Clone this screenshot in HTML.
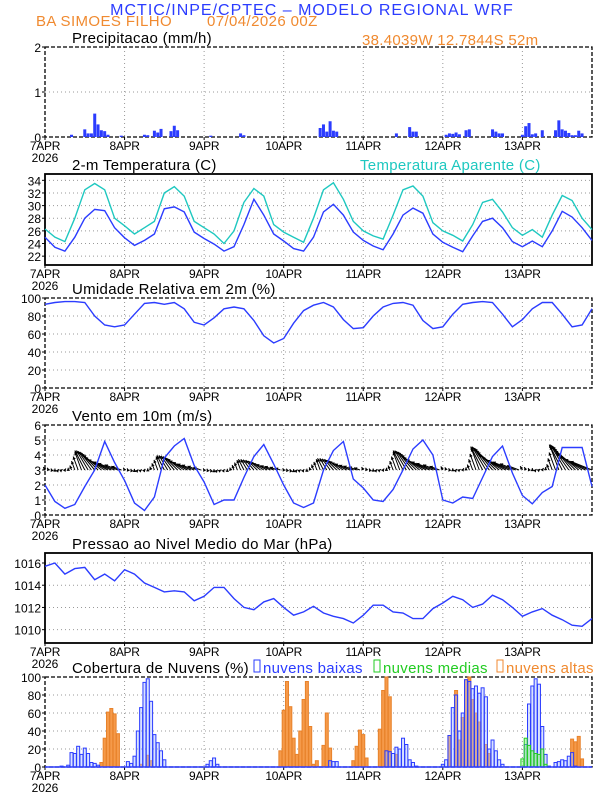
<!DOCTYPE html>
<html><head><meta charset="utf-8">
<style>
html,body{margin:0;padding:0;background:#fff;}
svg{display:block;font-family:"Liberation Sans","DejaVu Sans",sans-serif;}
</style></head>
<body>
<svg id="chart" width="612" height="792" viewBox="0 0 612 792" xmlns="http://www.w3.org/2000/svg">
<text x="312" y="15" text-anchor="middle" fill="#2b3cff" font-size="16" letter-spacing="1">MCTIC/INPE/CPTEC – MODELO REGIONAL WRF</text>
<text x="36" y="26" fill="#f08a30" font-size="15" letter-spacing="0.4">BA SIMOES FILHO</text>
<text x="207" y="26" fill="#f08a30" font-size="15" letter-spacing="0.4">07/04/2026 00Z</text>
<text x="362" y="45" fill="#f08a30" font-size="15" letter-spacing="0.3">38.4039W 12.7844S 52m</text>
<g id="layer"></g>
</svg>
<script>
// ---------- data ----------
const dayLabels = ["7APR","8APR","9APR","10APR","11APR","12APR","13APR"];
const hours3 = [0,3,6,9,12,15,18,21,24,27,30,33,36,39,42,45,48,51,54,57,60,63,66,69,72,75,78,81,84,87,90,93,96,99,102,105,108,111,114,117,120,123,126,129,132,135,138,141,144,147,150,153,156,159,162,165];
const precipHours = [8,12,13,14,15,16,17,18,19,23,30,31,33,34,35,38,39,40,50,59,60,83,84,85,86,87,88,106,110,111,112,121,122,123,124,125,127,128,135,136,137,138,144,145,146,147,148,150,154,155,156,157,158,159,160,161,162];
const precipVals  = [0.05,0.17,0.08,0.08,0.52,0.28,0.15,0.13,0.05,0.03,0.05,0.04,0.14,0.1,0.18,0.13,0.25,0.15,0.03,0.08,0.04,0.2,0.28,0.12,0.35,0.14,0.12,0.08,0.22,0.12,0.12,0.05,0.08,0.07,0.1,0.06,0.15,0.17,0.17,0.12,0.08,0.08,0.05,0.24,0.31,0.06,0.08,0.15,0.15,0.37,0.17,0.14,0.09,0.04,0.04,0.14,0.08];
const tempVals = [25.0,23.4,22.8,25.0,28.0,29.4,29.2,26.5,24.9,23.7,24.5,25.5,29.5,29.8,29.0,25.8,24.8,23.9,22.8,23.5,27.0,31.0,28.5,25.5,24.4,23.2,22.8,25.0,29.0,30.2,28.5,25.8,24.5,23.6,23.0,25.5,28.5,29.6,28.8,25.5,24.2,23.4,22.7,25.2,27.5,28.0,26.5,24.3,23.5,24.4,23.5,26.0,29.1,28.2,26.5,24.5];
const apparentVals = [26.3,25.0,24.3,28.0,32.5,33.5,32.5,28.0,26.8,25.5,26.5,27.5,32.0,33.0,31.5,27.5,26.5,25.5,24.0,26.0,30.5,32.7,31.5,27.0,25.8,25.0,24.2,28.0,32.5,33.6,31.0,27.5,26.0,25.2,24.7,28.5,32.5,33.1,31.5,27.3,26.0,25.3,24.4,27.0,30.5,31.0,29.0,26.5,25.3,26.2,25.0,28.5,31.6,30.8,28.0,26.2];
const rhVals = [93,95,96,96,95,80,70,68,70,82,94,95,93,95,88,73,70,78,88,90,88,75,58,50,55,72,86,92,95,90,76,66,67,80,90,94,95,92,75,66,68,82,93,95,96,95,82,68,76,88,95,95,82,68,70,88];
const windVals = [2.0,0.9,0.45,0.7,1.9,3.0,4.9,3.5,2.3,0.8,0.3,1.2,3.8,4.6,5.1,3.3,2.2,0.7,1.0,1.0,2.5,3.9,4.7,3.4,2.0,0.8,0.5,0.8,3.0,4.3,4.9,2.4,1.8,1.0,0.9,1.7,3.0,4.4,5.0,4.0,1.0,0.8,1.2,1.1,2.5,3.9,4.6,2.8,1.3,0.75,1.5,1.9,4.5,4.5,4.5,1.9];
// hourly wind-vector profile within a day (v = northward, u = eastward, plot units) and daily amplitude
const vecDayV = [0.2,0.15,0.1,0.1,0.05,0.05,0.1,0.15,0.3,0.6,0.9,1.2,1.3,1.3,1.25,1.2,1.1,1.0,0.85,0.7,0.55,0.45,0.35,0.25];
const vecDayU = [-0.5,-0.3,-0.2,0,0.2,0.3,0.3,0,-0.5,-1,-1.5,-2,-3,-3.5,-4,-4.5,-5,-5.5,-6,-6,-5.5,-5,-4,-3];
const vecDayAmp = [1.0,0.75,0.55,0.6,1.0,1.2,1.3];
const presVals = [1015.7,1016.0,1015.0,1015.5,1015.6,1014.5,1015.0,1014.4,1015.4,1015.0,1014.2,1013.8,1013.4,1013.5,1013.4,1012.6,1013.0,1013.8,1013.8,1012.8,1012.0,1011.8,1012.5,1012.8,1012.0,1011.3,1011.6,1012.1,1011.5,1011.2,1011.0,1010.6,1011.3,1012.2,1012.2,1011.6,1011.5,1011.0,1011.0,1011.9,1012.4,1013.0,1012.7,1012.0,1012.3,1013.1,1012.7,1012.0,1011.2,1011.6,1011.9,1011.3,1010.9,1010.4,1010.3,1011.0];
const lowHours = [5,7,8,9,10,11,12,13,14,15,16,25,26,27,28,29,30,31,32,33,34,35,36,49,50,51,52,86,87,88,103,104,105,106,107,108,109,110,111,112,120,121,122,123,124,125,126,127,128,129,130,131,132,133,134,135,136,137,138,145,146,147,148,149,150,151,152,154,155,156,157,158,159,160];
const lowVals  = [1,2,16,15,23,14,21,15,5,4,2,6,4,12,40,66,94,98,73,36,27,18,8,3,7,10,3,7,6,6,18,17,15,22,20,32,25,8,5,1,3,8,35,66,80,40,60,97,95,87,90,82,88,78,20,30,18,8,3,25,70,90,98,92,45,14,1,5,6,8,7,12,16,1];
const midHours = [144,145,146,147,148,149,150,151];
const midVals  = [9,32,24,18,15,14,20,3];
const highHours = [17,18,19,20,21,22,29,31,32,71,72,73,74,75,76,77,78,79,80,81,82,84,85,86,93,94,95,96,97,101,102,103,104,106,122,124,125,126,127,128,129,130,131,133,134,159,160,161,162];
const highVals  = [5,32,61,65,59,37,3,13,7,18,63,95,67,32,14,40,75,95,45,3,7,24,60,21,7,23,41,36,10,42,85,100,78,14,35,85,30,55,97,100,75,60,50,25,15,31,28,34,9];

// ---------- layout ----------
const X0 = 45, X1 = 592, HMAX = 165;
const NS = "http://www.w3.org/2000/svg";
const layer = document.getElementById('layer');
function xs(h){ return X0 + (h / HMAX) * (X1 - X0); }
function mk(tag, attrs, parent){
  const e = document.createElementNS(NS, tag);
  for (const k in attrs) e.setAttribute(k, attrs[k]);
  (parent || layer).appendChild(e);
  return e;
}
function scaleY(top, bot, vmin, vmax){ return v => bot - (v - vmin) / (vmax - vmin) * (bot - top); }

function panel(name, top, bot, vmin, vmax, ticks, dashed, title, tx){
  const g = mk('g', {});
  
  
  const y = scaleY(top, bot, vmin, vmax);
  for (let d = 1; d < dayLabels.length; d++){
    const gl = mk('line', {x1: xs(d*24), x2: xs(d*24), y1: top, y2: bot, stroke: '#999', 'stroke-dasharray': '1,3', 'stroke-width': 1}, g);
    
    
  }
  ticks.forEach(t => {
    if (t > vmin && t < vmax){
      const hl = mk('line', {x1: X0, x2: X1, y1: y(t), y2: y(t), stroke: '#999', 'stroke-dasharray': '1,3', 'stroke-width': 1}, g);
      
      
    }
    const tl = mk('text', {x: X0 - 4, y: y(t) + 5, 'text-anchor': 'end', 'font-size': 12, fill: '#000'}, g);
    tl.textContent = t;
    
    
    mk('line', {x1: X0 - 3, x2: X0, y1: y(t), y2: y(t), stroke: '#000'}, g);
  });
  dayLabels.forEach((lab, d) => {
    const t = mk('text', {x: xs(d*24), y: bot + 13, 'text-anchor': 'middle', 'font-size': 12, fill: '#000', 'letter-spacing': '-0.3'}, g);
    t.textContent = lab;
    
    
    mk('line', {x1: xs(d*24), x2: xs(d*24), y1: bot, y2: bot + 3, stroke: '#000'}, g);
  });
  const yr = mk('text', {x: X0, y: bot + 25, 'text-anchor': 'middle', 'font-size': 12, fill: '#000'}, g);
  yr.textContent = '2026';
  
  
  const tt = mk('text', {x: tx || 72, y: top - 4, 'font-size': 15, fill: '#000', 'letter-spacing': '0.3'}, g);
  tt.textContent = title;
  
  
  const fr = mk('rect', {x: X0, y: top, width: X1 - X0, height: bot - top, fill: 'none', stroke: '#000', 'stroke-width': dashed ? 1.3 : 1.8}, g);
  if (dashed) fr.setAttribute('stroke-dasharray', '4,2');
  
  
  return {g, y};
}
function line(g, hs, vals, y, color, name){
  const pts = hs.map((h, i) => xs(h).toFixed(1) + ',' + y(vals[i]).toFixed(1)).join(' ');
  const p = mk('polyline', {points: pts, fill: 'none', stroke: color, 'stroke-width': 1.4}, g);
  
  
}

// Panel 1: precipitation
const p1 = panel('precipitation-panel', 47, 137, 0, 2, [0,1,2], true, 'Precipitacao (mm/h)');
precipHours.forEach((h, i) => {
  const b = mk('rect', {x: xs(h) - 1.5, y: p1.y(precipVals[i]), width: 3, height: p1.y(0) - p1.y(precipVals[i]), fill: '#2b3cff'}, p1.g);
  
  
});

// Panel 2: temperature
const p2 = panel('temperature-panel', 174, 265, 20.6, 35, [22,24,26,28,30,32,34], false, '2-m Temperatura (C)');
const ap = mk('text', {x: 360, y: 170, 'font-size': 15, fill: '#1ec8c0', 'letter-spacing': '0.3'}, p2.g);
ap.textContent = 'Temperatura Aparente (C)';


line(p2.g, hours3, apparentVals, p2.y, '#1ec8c0', 'apparent-temperature-line');
line(p2.g, hours3, tempVals, p2.y, '#2b3cff', 'temperature-line');

// Panel 3: RH
const p3 = panel('humidity-panel', 298, 388, 0, 100, [0,20,40,60,80,100], true, 'Umidade Relativa em 2m (%)');
line(p3.g, hours3, rhVals, p3.y, '#2b3cff', 'humidity-line');

// Panel 4: wind
const p4 = panel('wind-panel', 425, 515, 0, 6, [0,1,2,3,4,5,6], true, 'Vento em 10m (m/s)');
for (let h = 0; h <= HMAX; h++){
  const d = Math.floor(h / 24), r = h % 24;
  const vv = vecDayV[r] * vecDayAmp[d], uu = vecDayU[r] * vecDayAmp[d];
  const x0 = xs(h), y0 = p4.y(3);
  const x1 = xs(h + uu), y1 = p4.y(3 + vv);
  const a = mk('line', {x1: x0, y1: y0, x2: x1, y2: y1, stroke: '#000', 'stroke-width': 1}, p4.g);
  
  
  const ang = Math.atan2(y1 - y0, x1 - x0);
  const hd = mk('path', {d: `M${x1},${y1} L${x1 - 3.5*Math.cos(ang - 0.5)},${y1 - 3.5*Math.sin(ang - 0.5)} L${x1 - 3.5*Math.cos(ang + 0.5)},${y1 - 3.5*Math.sin(ang + 0.5)} Z`, fill: '#000'}, p4.g);
  
  
}
line(p4.g, hours3, windVals, p4.y, '#2b3cff', 'wind-speed-line');

// Panel 5: pressure
const p5 = panel('pressure-panel', 553, 643, 1008.8, 1016.9, [1010,1012,1014,1016], false, 'Pressao ao Nivel Medio do Mar (hPa)');
line(p5.g, hours3, presVals, p5.y, '#2b3cff', 'pressure-line');

// Panel 6: clouds
const p6 = panel('cloud-panel', 677, 767, 0, 100, [0,20,40,60,80,100], true, 'Cobertura de Nuvens (%)');
function bars(hs, vals, fill, stroke, name){
  hs.forEach((h, i) => {
    const b = mk('rect', {x: xs(h) - 1.5, y: p6.y(vals[i]), width: 3, height: p6.y(0) - p6.y(vals[i]), fill: fill, stroke: stroke, 'stroke-width': 1}, p6.g);
    
    
  });
}
bars(highHours, highVals, '#f59a4a', '#e8822a', 'high-cloud-bar');
bars(lowHours, lowVals, 'rgba(170,190,255,0.45)', '#2b3cff', 'low-cloud-bar');
bars(midHours, midVals, 'rgba(120,230,120,0.45)', '#22cc22', 'mid-cloud-bar');
mk('line', {x1: X0, x2: X1, y1: p6.y(0), y2: p6.y(0), stroke: '#2b3cff', 'stroke-width': 1.5}, p6.g);
const leg = [['nuvens baixas', '#2b3cff', 254, 'legend-low-clouds'], ['nuvens medias', '#22cc22', 374, 'legend-mid-clouds'], ['nuvens altas', '#f08a30', 497, 'legend-high-clouds']];
leg.forEach(l => {
  const r = mk('rect', {x: l[2], y: 660, width: 6, height: 12, fill: 'none', stroke: l[1], 'stroke-width': 1}, p6.g);
  
  
  const t = mk('text', {x: l[2] + 9, y: 673, 'font-size': 15, fill: l[1], 'letter-spacing': '0.3'}, p6.g);
  t.textContent = l[0];
  
  
});
</script>
</body></html>
